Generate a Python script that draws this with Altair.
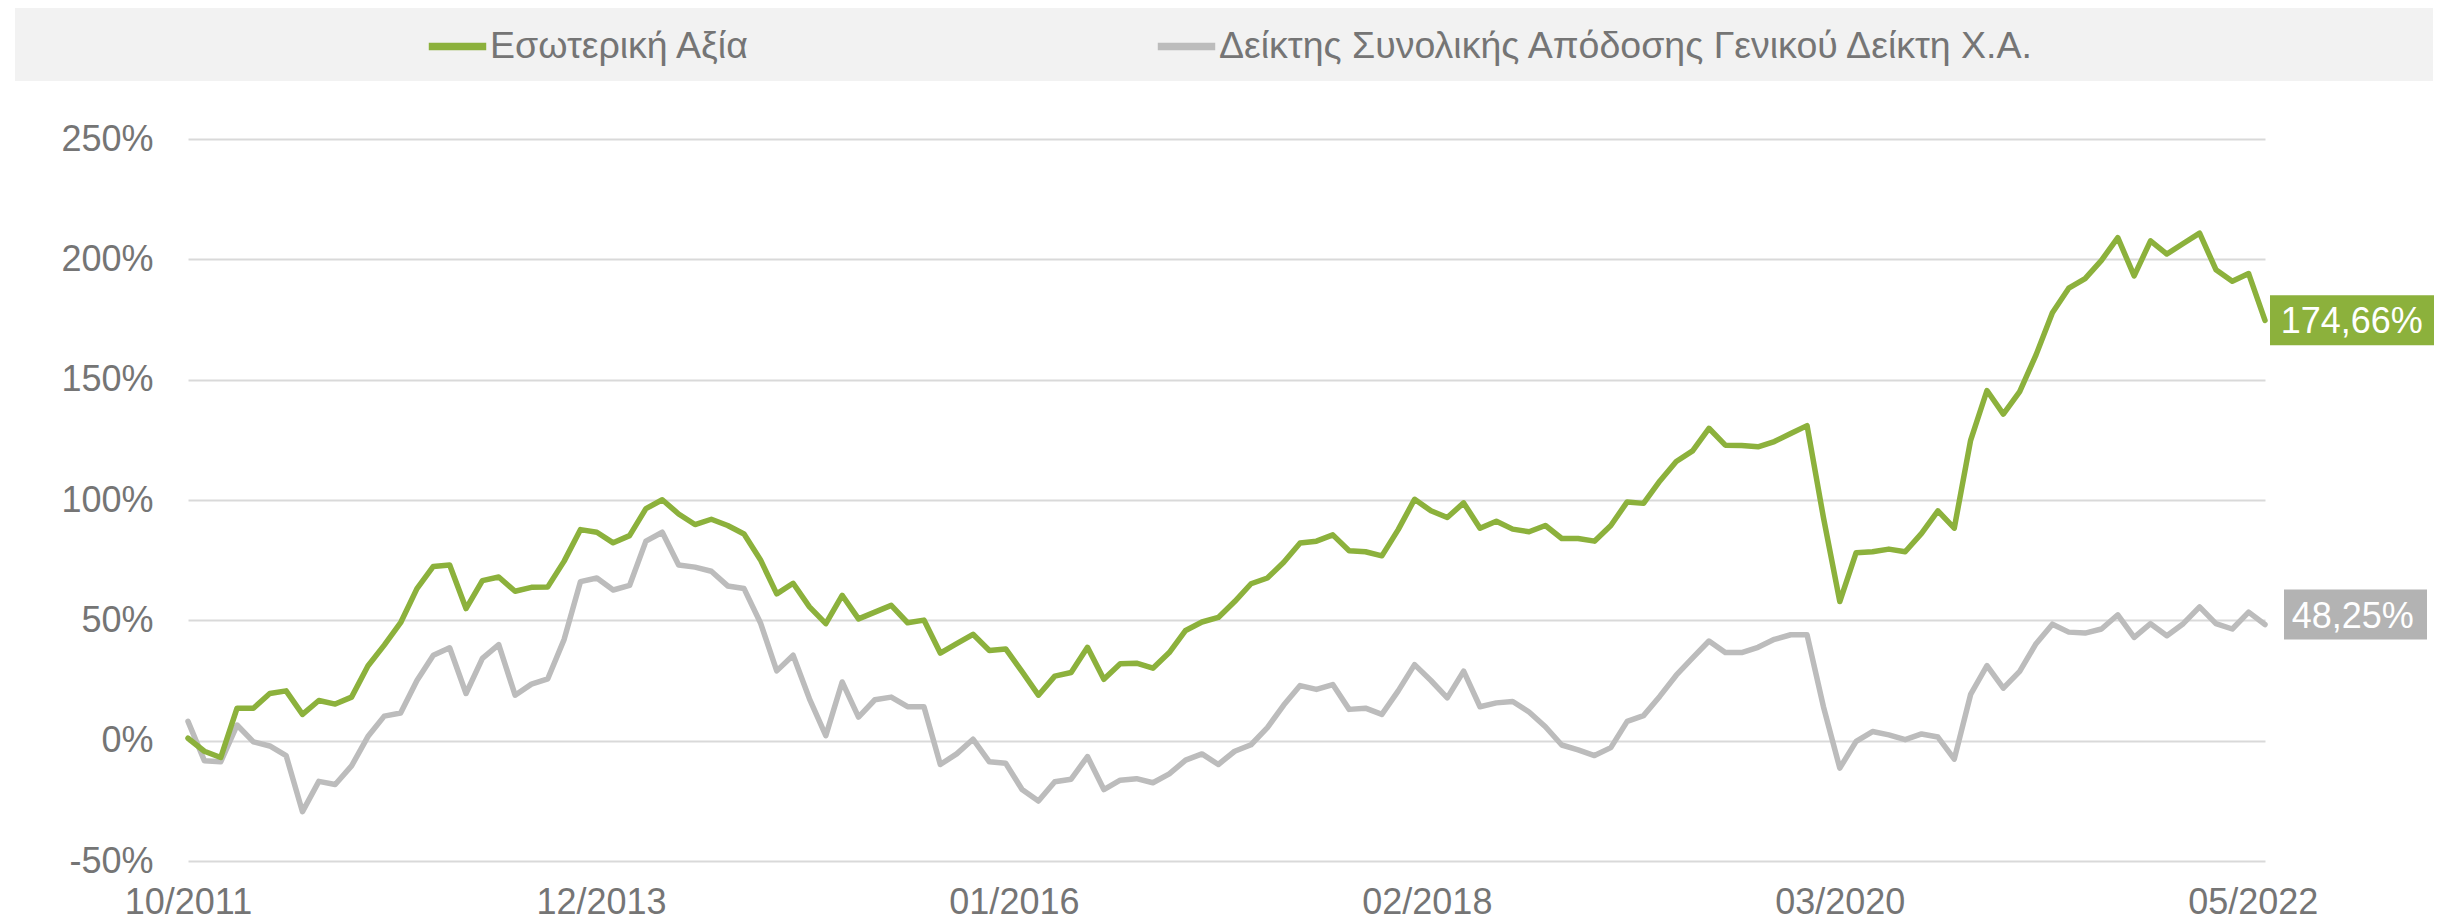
import altair as alt
import pandas as pd

# ---------------- data ----------------
series_names = ["Εσωτερική Αξία", "Δείκτης Συνολικής Απόδοσης Γενικού Δείκτη Χ.Α."]
line_colors = ["#8CB13C", "#BCBCBC"]
box_colors = ["#8CB13C", "#B3B3B3"]

months = list(pd.period_range("2011-10", "2022-05", freq="M").strftime("%m/%Y"))

nav = [1.0, -4.4, -7.0, 13.5, 13.5, 19.6, 20.7, 10.9, 16.7, 15.2,
       18.1, 31.0, 39.7, 49.0, 63.2, 72.4, 73.0, 54.9, 66.5, 68.0,
       62.1, 63.7, 63.9, 74.6, 87.7, 86.6, 82.2, 85.2, 96.4, 100.1,
       94.2, 89.8, 92.0, 89.4, 85.9, 75.2, 61.0, 65.4, 55.6, 48.6,
       60.4, 50.6, 53.4, 56.2, 49.0, 50.1, 36.4, 40.3, 44.2, 37.5,
       38.1, 28.7, 18.9, 26.8, 28.3, 38.8, 25.5, 32.0, 32.2, 30.1,
       36.6, 45.8, 49.3, 51.2, 57.8, 65.2, 67.6, 74.1, 82.1, 82.9,
       85.5, 78.9, 78.5, 76.8, 87.7, 100.3, 95.5, 92.7, 98.8, 88.3,
       91.2, 87.9, 86.8, 89.4, 84.0, 84.0, 82.9, 89.4, 99.2, 98.6,
       107.9, 116.0, 120.4, 129.8, 122.8, 122.6, 122.1, 124.3, 127.6, 130.9,
       92.7, 57.8, 78.1, 78.5, 79.6, 78.5, 86.1, 95.5, 88.3, 124.8,
       145.5, 135.7, 145.0, 160.3, 177.8, 188.0, 192.0, 199.6, 209.0, 193.1,
       207.7, 202.2, 206.6, 210.9, 195.7, 190.9, 194.1, 174.66]

index_ret = [8.0, -8.3, -8.8, 6.5, -0.5, -2.2, -6.2, -29.5, -16.9, -18.2,
             -10.5, 1.7, 10.2, 11.5, 25.0, 35.5, 38.6, 19.6, 34.2, 39.9,
             18.9, 23.5, 25.7, 42.1, 66.1, 67.6, 62.6, 64.5, 82.9, 86.6,
             73.0, 72.1, 70.4, 64.3, 63.2, 49.0, 29.0, 35.5, 17.4, 2.1,
             24.4, 9.8, 17.0, 18.1, 14.1, 14.1, -9.9, -5.5, 0.6, -8.8,
             -9.4, -20.3, -25.1, -17.1, -16.0, -6.6, -20.3, -16.4, -15.8, -17.5,
             -13.8, -8.1, -5.5, -9.9, -4.4, -1.7, 5.4, 14.8, 22.9, 21.3,
             23.3, 13.0, 13.5, 10.9, 20.7, 31.6, 25.0, 17.8, 28.9, 14.1,
             15.7, 16.3, 11.9, 5.8, -1.8, -3.8, -6.2, -2.9, 8.0, 10.4,
             18.5, 27.2, 34.4, 41.4, 36.6, 36.6, 38.8, 42.1, 44.0, 44.0,
             14.1, -11.4, -0.3, 3.8, 2.4, 0.4, 2.8, 1.5, -7.7, 19.2,
             31.2, 21.8, 28.8, 40.3, 48.4, 45.1, 44.7, 46.4, 52.3, 42.9,
             48.6, 43.6, 48.6, 55.6, 48.6, 46.4, 53.4, 48.25]

end_labels = ["174,66%", "48,25%"]

y_ticks = [-50, 0, 50, 100, 150, 200, 250]
x_tick_pos = [0, 25.25, 50.5, 75.75, 101, 126.25]
x_tick_labels = ["10/2011", "12/2013", "01/2016", "02/2018", "03/2020", "05/2022"]

# ---------------- styling ----------------
FONT = "Liberation Sans"
TXT = "#757575"
FS = 36
N = len(months)

rows = []
for name, vals in [(series_names[1], index_ret), (series_names[0], nav)]:
    for i, (m, v) in enumerate(zip(months, vals)):
        rows.append({"idx": i, "month": m, "value": v, "series": name})
df = pd.DataFrame(rows)

# label expression for x ticks built from the lists
expr = "''"
for p, lab in reversed(list(zip(x_tick_pos, x_tick_labels))):
    expr = f"abs(datum.value - {p}) < 1 ? '{lab}' : ({expr})"

x_enc = alt.X(
    "idx:Q",
    scale=alt.Scale(domain=[0, N - 1], nice=False, zero=False),
    axis=alt.Axis(values=x_tick_pos, labelExpr=expr, title=None, grid=False,
                  domain=False, ticks=False, tickSize=0, labelPadding=24,
                  labelFontSize=FS, labelFont=FONT, labelColor=TXT,
                  labelFlush=False, labelOverlap=False, labelBound=False),
)
y_enc = alt.Y(
    "value:Q",
    scale=alt.Scale(domain=[-50, 250], nice=False, zero=False),
    axis=alt.Axis(values=y_ticks, labelExpr="datum.value + '%'", title=None,
                  grid=True, gridColor="#D9D9D9", gridWidth=2, domain=False,
                  ticks=False, tickSize=0, labelPadding=35, labelFontSize=FS,
                  labelFont=FONT, labelColor=TXT),
)

band = alt.Chart(pd.DataFrame({"b": [0]})).mark_rect(color="#F2F2F2").encode(
    x=alt.value(-173), x2=alt.value(2245), y=alt.value(-133), y2=alt.value(-58)
)

lines = alt.Chart(df).mark_line(strokeWidth=5.5, strokeCap="round", strokeJoin="round").encode(
    x=x_enc,
    y=y_enc,
    color=alt.Color(
        "series:N",
        scale=alt.Scale(domain=series_names, range=line_colors),
        legend=alt.Legend(
            orient="none", legendX=237, legendY=-125, direction="horizontal",
            title=None, symbolType="stroke", symbolStrokeWidth=7.5,
            symbolSize=3300, labelFontSize=37.5, labelFont=FONT, labelColor=TXT,
            labelLimit=3000, columnPadding=392, labelOffset=0, padding=0,
        ),
    ),
    detail="series:N",
)

# end-of-line value boxes
box_x = [(5, 169), (19, 162)]
box_y = [(-25, 25), (-35, 15)]
text_dx = [15.7, 26.7]
text_dy = [2, -8]
last_vals = [nav[-1], index_ret[-1]]

layers = [band, lines]
for k in range(2):
    d = pd.DataFrame({"idx": [N - 1], "value": [last_vals[k]], "label": [end_labels[k]]})
    base = alt.Chart(d)
    rect = base.mark_rect(color=box_colors[k], xOffset=box_x[k][0], x2Offset=box_x[k][1],
                          yOffset=box_y[k][0], y2Offset=box_y[k][1]).encode(
        x=alt.X("idx:Q"), x2="idx:Q", y=alt.Y("value:Q"), y2="value:Q"
    )
    txt = base.mark_text(align="left", baseline="middle", dx=text_dx[k], dy=text_dy[k],
                         fontSize=FS, font=FONT, color="white").encode(
        x=alt.X("idx:Q"), y=alt.Y("value:Q"), text="label:N"
    )
    layers += [rect, txt]

chart = alt.layer(*layers).properties(
    width=2077, height=722,
    padding={"left": 180, "top": 131, "right": 170, "bottom": 63},
    autosize=alt.AutoSizeParams(type="none"),
    background="white",
).configure_view(stroke=None)

chart.save("out.html", embed_options={"renderer": "svg", "actions": False})
